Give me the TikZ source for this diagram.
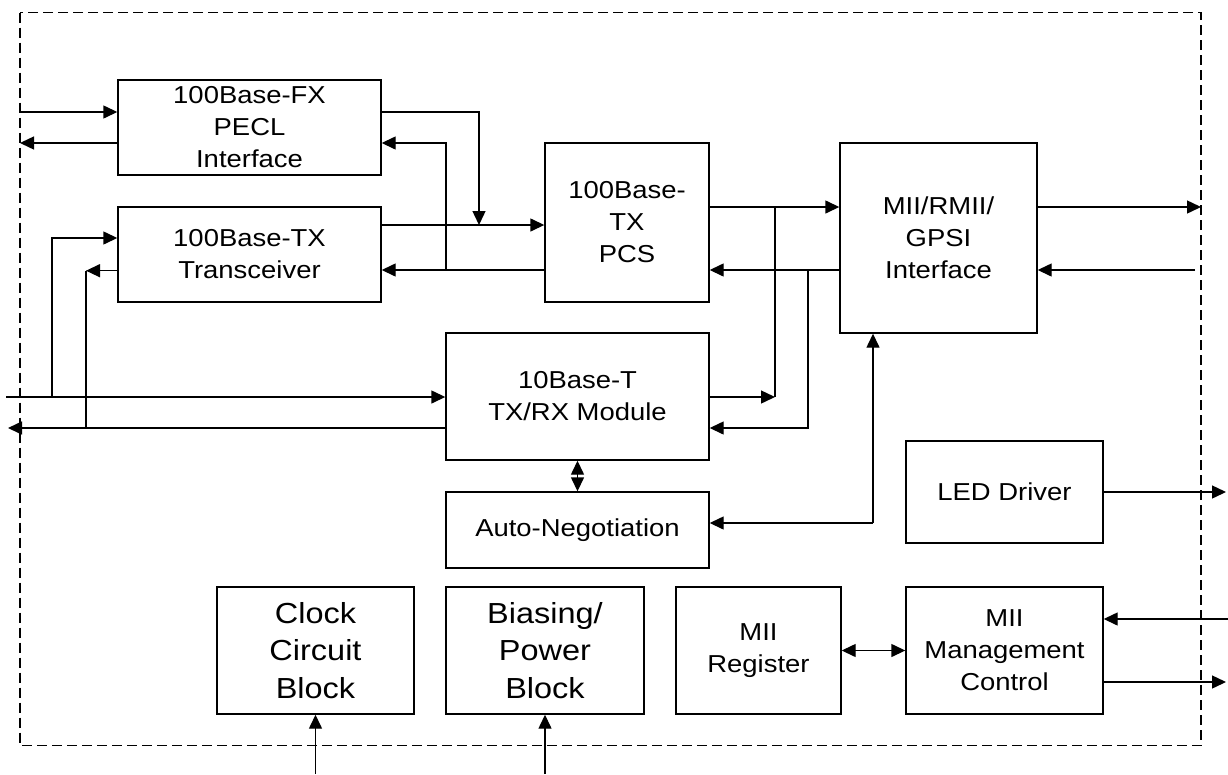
\documentclass[tikz,border=0pt]{standalone}
\usepackage{fontspec}
\setmainfont{Liberation Sans}[FakeStretch=1.12]
\usetikzlibrary{arrows.meta}
\tikzset{
  blk/.style={draw, line width=1.4pt, rectangle, inner sep=0pt, align=center,
    font=\fontsize{24.5}{32}\selectfont},
  bigblk/.style={blk, font=\fontsize{29}{37.5}\selectfont},
  conn/.style={line width=1.4pt},
  arr/.style={conn, -{Triangle[length=14pt,width=13pt]}},
  dblarr/.style={conn, {Triangle[length=14pt,width=13pt]}-{Triangle[length=14pt,width=13pt]}},
  frame/.style={line width=1.2pt, dash pattern=on 10pt off 5pt}
}
\begin{document}
\begin{tikzpicture}[x=1pt,y=-1pt]
\useasboundingbox (0,0) rectangle (1228,774);
\draw[frame] (20,12.5) rectangle (1201,745.5);

\node[blk, minimum width=263pt, minimum height=95pt] (FX) at (249.5,127.5) {100Base-FX\\PECL\\Interface};
\node[blk, minimum width=263pt, minimum height=95pt] (TX) at (249.5,254.5) {100Base-TX\\Transceiver};
\node[blk, minimum width=164pt, minimum height=159pt] (PCS) at (627,222.5) {100Base-\\TX\\PCS};
\node[blk, minimum width=197pt, minimum height=190pt] (MII) at (938.5,238) {MII/RMII/\\GPSI\\Interface};
\node[blk, minimum width=263pt, minimum height=127pt] (TEN) at (577.5,396.5) {10Base-T\\TX/RX Module};
\node[blk, minimum width=263pt, minimum height=76pt] (AN) at (577.5,530) {Auto-Negotiation};
\node[blk, minimum width=197pt, minimum height=102pt] (LED) at (1004.5,492) {LED Driver};
\node[bigblk, minimum width=197pt, minimum height=127pt] (CLK) at (315.5,650.5) {Clock\\Circuit\\Block};
\node[bigblk, minimum width=198pt, minimum height=127pt] (BIAS) at (545,650.5) {Biasing/\\Power\\Block};
\node[blk, minimum width=165pt, minimum height=127pt] (REG) at (758.5,650.5) {MII\\Register};
\node[blk, minimum width=197pt, minimum height=127pt] (MG) at (1004.5,650.5) {MII\\Management\\Control};

\coordinate (fxin) at (20,112);
\coordinate (fxout) at (20,143);
\coordinate (j1) at (479,112);
\coordinate (j1b) at (479,225);
\coordinate (j2) at (446,143);
\coordinate (j2b) at (446,270);
\coordinate (txin) at (52,238);
\coordinate (txout) at (86,270.7);
\coordinate (in10) at (6,397);
\coordinate (out10) at (8,428);
\coordinate (j3) at (775,207);
\coordinate (j3b) at (775,397);
\coordinate (j4) at (808,270);
\coordinate (j4b) at (808,428);
\coordinate (j5) at (873,523);
\coordinate (miiout) at (1201,207);
\coordinate (miiin) at (1195,270);
\coordinate (ledout) at (1226,492);
\coordinate (mgin) at (1228,619);
\coordinate (mgout) at (1226,682);
\coordinate (clkin) at (315.5,774);
\coordinate (biasin) at (545,774);

\draw[arr] (fxin) -- (FX.west |- fxin);
\draw[arr] (FX.west |- fxout) -- (fxout);
\draw[arr] (FX.east |- j1) -- (j1) -- (j1b);
\draw[arr] (TX.east |- j1b) -- (PCS.west |- j1b);
\draw[arr] (PCS.west |- j2b) -- (TX.east |- j2b);
\draw[arr] (j2b) -- (j2) -- (FX.east |- j2);
\draw[arr] (MII.west |- j4) -- (PCS.east |- j4);
\draw[arr] (PCS.east |- j3) -- (MII.west |- j3);
\draw[conn] (j3) -- (j3b);
\draw[arr] (TEN.east |- j3b) -- (j3b);
\draw[arr] (j4) -- (j4b) -- (TEN.east |- j4b);
\draw[arr] (MII.east |- miiout) -- (miiout);
\draw[arr] (miiin) -- (MII.east |- miiin);
\draw[arr] (in10) -- (TEN.west |- in10);
\draw[arr] (TEN.west |- out10) -- (out10);
\draw[arr] (txin |- in10) -- (txin) -- (TX.west |- txin);
\draw[arr] (TX.west |- txout) -- (txout);
\draw[conn] (txout) -- (txout |- out10);
\draw[dblarr] (TEN.south) -- (AN.north);
\draw[arr] (j5) -- (j5 |- MII.south);
\draw[arr] (j5) -- (AN.east |- j5);
\draw[arr] (LED.east) -- (ledout);
\draw[dblarr] (REG.east) -- (MG.west);
\draw[arr] (mgin) -- (MG.east |- mgin);
\draw[arr] (MG.east |- mgout) -- (mgout);
\draw[arr] (clkin) -- (CLK.south);
\draw[arr] (biasin) -- (BIAS.south);
\end{tikzpicture}
\end{document}
